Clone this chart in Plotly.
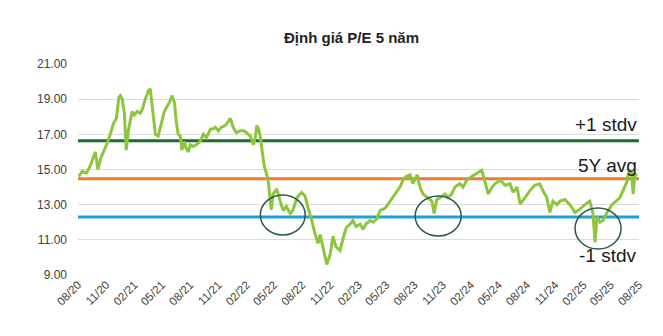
import plotly.graph_objects as go

# ---- data ----
dates = [
    "2020-08-03", "2020-08-15", "2020-08-28", "2020-09-10", "2020-09-26", "2020-10-05", "2020-10-13",
    "2020-10-23", "2020-11-04", "2020-11-14", "2020-11-24", "2020-12-04", "2020-12-12", "2020-12-17",
    "2020-12-23", "2020-12-30", "2021-01-05", "2021-01-12", "2021-01-24", "2021-01-31", "2021-02-10",
    "2021-02-20", "2021-02-26", "2021-03-08", "2021-03-19", "2021-03-24", "2021-04-01", "2021-04-10",
    "2021-04-19", "2021-04-29", "2021-05-09", "2021-05-18", "2021-05-25", "2021-06-03", "2021-06-11",
    "2021-06-17", "2021-06-23", "2021-06-30", "2021-07-05", "2021-07-13", "2021-07-19", "2021-07-26",
    "2021-08-01", "2021-08-11", "2021-08-21", "2021-09-03", "2021-09-13", "2021-09-23", "2021-10-06",
    "2021-10-15", "2021-10-22", "2021-11-01", "2021-11-10", "2021-11-23", "2021-12-03", "2021-12-10",
    "2021-12-19", "2021-12-29", "2022-01-11", "2022-01-21", "2022-01-31", "2022-02-13", "2022-02-23",
    "2022-03-01", "2022-03-06", "2022-03-12", "2022-03-17", "2022-03-24", "2022-03-30", "2022-04-06",
    "2022-04-12", "2022-04-19", "2022-04-22", "2022-04-28", "2022-05-10", "2022-05-21", "2022-05-31",
    "2022-06-10", "2022-06-23", "2022-07-02", "2022-07-15", "2022-07-30", "2022-08-10", "2022-08-20",
    "2022-09-01", "2022-09-12", "2022-09-21", "2022-09-28", "2022-10-08", "2022-10-20", "2022-10-31",
    "2022-11-09", "2022-11-19", "2022-12-02", "2022-12-12", "2022-12-22", "2023-01-04", "2023-01-13",
    "2023-01-23", "2023-02-05", "2023-02-15", "2023-02-24", "2023-03-10", "2023-03-20", "2023-04-01",
    "2023-04-11", "2023-04-28", "2023-05-14", "2023-05-30", "2023-06-15", "2023-06-25", "2023-07-05",
    "2023-07-18", "2023-07-27", "2023-08-10", "2023-08-19", "2023-08-29", "2023-09-14", "2023-09-27",
    "2023-10-04", "2023-10-13", "2023-10-23", "2023-11-09", "2023-11-18", "2023-11-30", "2023-12-11",
    "2023-12-27", "2024-01-06", "2024-01-19", "2024-02-08", "2024-02-24", "2024-03-07", "2024-03-18",
    "2024-03-28", "2024-04-10", "2024-04-20", "2024-05-06", "2024-05-22", "2024-06-07", "2024-06-17",
    "2024-06-30", "2024-07-10", "2024-07-26", "2024-08-11", "2024-08-27", "2024-09-12", "2024-09-22",
    "2024-10-05", "2024-10-15", "2024-10-25", "2024-11-07", "2024-11-17", "2024-12-03", "2024-12-19",
    "2025-01-05", "2025-01-21", "2025-02-06", "2025-02-22", "2025-03-04", "2025-03-11", "2025-03-17",
    "2025-03-27", "2025-04-06", "2025-04-19", "2025-05-05", "2025-05-20", "2025-05-31", "2025-06-10",
    "2025-06-22", "2025-06-26", "2025-07-02", "2025-07-08", "2025-07-13", "2025-07-19", "2025-07-24",
]
pe_values = [
    14.6, 14.9, 14.8, 15.2, 16.0, 15.0, 15.6,
    16.0, 16.5, 17.0, 17.6, 17.9, 19.1, 19.2,
    19.0, 18.2, 16.1, 17.2, 18.3, 18.1, 18.3,
    18.2, 18.4, 19.0, 19.5, 19.6, 18.3, 17.0,
    16.9, 17.6, 18.3, 18.6, 18.8, 19.2, 18.8,
    17.7, 17.0, 16.9, 16.1, 16.6, 16.2, 16.0,
    16.4, 16.3, 16.4, 16.6, 17.0, 16.8, 17.3,
    17.3, 17.4, 17.2, 17.4, 17.5, 17.7, 17.9,
    17.4, 17.1, 17.2, 17.2, 17.1, 16.9, 16.4,
    16.8, 17.5, 17.3, 16.9, 16.1, 15.2, 14.8,
    14.4, 13.2, 12.7, 13.6, 13.9, 13.2, 12.66,
    12.9, 12.5, 12.7, 13.4, 13.7, 13.5, 12.8,
    12.1, 11.3, 10.8, 11.3, 10.56, 9.6, 10.2,
    11.2, 10.6, 10.4, 11.1, 11.7, 11.9, 12.1,
    11.75, 11.9, 11.6, 11.9, 12.1, 12.0, 12.2,
    12.66, 12.8, 13.2, 13.6, 14.0, 14.4, 14.6,
    14.7, 14.2, 14.7, 14.0, 13.6, 13.4, 13.2,
    12.5, 13.3, 13.4, 13.6, 13.4, 13.6, 14.0,
    14.2, 14.0, 14.4, 14.66, 14.8, 14.95, 14.3,
    13.6, 14.0, 14.2, 14.4, 14.1, 14.2, 13.7,
    14.0, 13.04, 13.4, 13.8, 14.1, 14.18, 13.8,
    13.4, 12.56, 13.2, 13.0, 13.2, 13.3, 13.0,
    12.56, 12.75, 13.0, 13.2, 12.5, 10.85, 12.3,
    12.0, 12.1, 12.56, 13.0, 13.2, 13.4, 13.8,
    14.27, 14.66, 14.95, 14.8, 13.6, 14.8, 14.6,
]

avg_5y = 14.48
plus_1_stdv = 16.64
minus_1_stdv = 12.30

line_labels = ["+1 stdv", "5Y avg", "-1 stdv"]
label_y = [17.55, 15.25, 10.1]

tick_dates = [
    "2020-08-01", "2020-11-01", "2021-02-01", "2021-05-01", "2021-08-01", "2021-11-01",
    "2022-02-01", "2022-05-01", "2022-08-01", "2022-11-01", "2023-02-01", "2023-05-01",
    "2023-08-01", "2023-11-01", "2024-02-01", "2024-05-01", "2024-08-01", "2024-11-01",
    "2025-02-01", "2025-05-01", "2025-08-01",
]
tick_text = [
    "08/20", "11/20", "02/21", "05/21", "08/21", "11/21", "02/22", "05/22", "08/22", "11/22",
    "02/23", "05/23", "08/23", "11/23", "02/24", "05/24", "08/24", "11/24", "02/25", "05/25", "08/25",
]
y_ticks = [9, 11, 13, 15, 17, 19, 21]
y_tick_text = ["9.00", "11.00", "13.00", "15.00", "17.00", "19.00", "21.00"]

fig = go.Figure()

for val, col in [(plus_1_stdv, "#1F6B2B"), (avg_5y, "#ED7D31"), (minus_1_stdv, "#1CA1DA")]:
    fig.add_shape(type="line", xref="paper", x0=0, x1=1, yref="y", y0=val, y1=val,
                  line=dict(color=col, width=3), layer="below")

fig.add_trace(go.Scatter(x=dates, y=pe_values, mode="lines",
                         line=dict(color="#8CC63F", width=3), showlegend=False))

for txt, yy in zip(line_labels, label_y):
    fig.add_annotation(text=txt, x=1.0, xref="paper", xanchor="right", y=yy, yref="y",
                       yanchor="middle", showarrow=False,
                       font=dict(family="Liberation Sans, Arial", size=19, color="#1a1a1a"))

# highlight ellipses
for x0, x1, y0, y1 in [(0.325, 0.405, 0.190, 0.379), (0.601, 0.683, 0.185, 0.374), (0.886, 0.968, 0.123, 0.318)]:
    fig.add_shape(type="circle", xref="paper", yref="paper", x0=x0, x1=x1, y0=y0, y1=y1,
                  line=dict(color="#2A5A48", width=1.5))

fig.update_layout(
    width=663, height=336,
    margin=dict(l=78, r=24, t=64, b=61),
    paper_bgcolor="white", plot_bgcolor="white",
    title=dict(text="<b>Định giá P/E 5 năm</b>", x=351.5 / 663, xanchor="center",
               y=1 - 38 / 336, yanchor="middle",
               font=dict(family="Liberation Sans, Arial", size=15, color="#222222")),
    font=dict(family="Liberation Sans, Arial", size=12, color="#404040"),
    xaxis=dict(type="date", range=["2020-08-01", "2025-08-01"], tickvals=tick_dates,
               ticktext=tick_text, tickangle=-45, showgrid=False, showline=False,
               zeroline=False, ticks="", tickfont=dict(size=11.5, color="#404040")),
    yaxis=dict(range=[9, 21], tickvals=y_ticks, ticktext=y_tick_text, showgrid=True,
               gridcolor="#DCDCDC", gridwidth=1, zeroline=False, showline=False,
               ticks="", ticklabelstandoff=10, tickfont=dict(size=12, color="#404040")),
)

fig.write_html("out.html")
